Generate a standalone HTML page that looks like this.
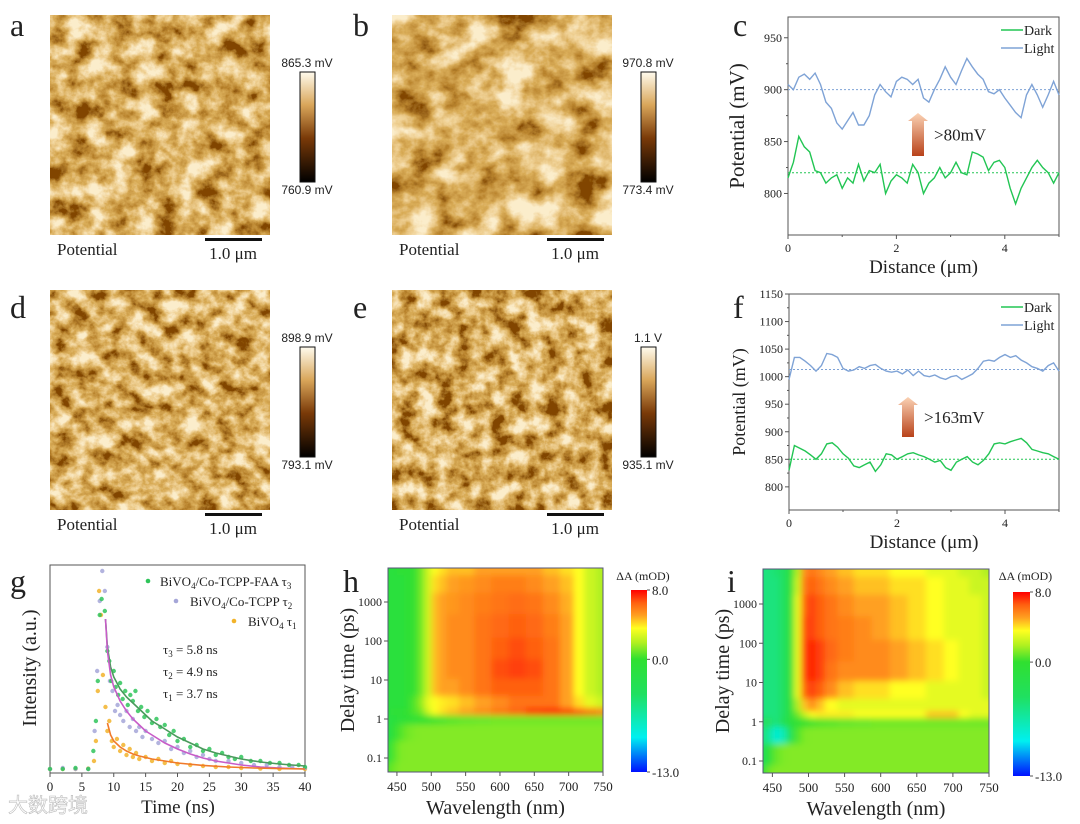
<!DOCTYPE html>
<html><head><meta charset="utf-8"><style>
html,body{margin:0;padding:0;background:#fff;}
svg{display:block;font-family:"Liberation Serif",serif;}
.sans{font-family:"Liberation Sans",sans-serif;}
</style></head><body>
<svg id="fig" width="1080" height="824" viewBox="0 0 1080 824" xmlns="http://www.w3.org/2000/svg">
<defs>
<linearGradient id="afmbar" x1="0" y1="0" x2="0" y2="1">
<stop offset="0" stop-color="#fffbee"/><stop offset="0.3" stop-color="#d9a65a"/><stop offset="0.6" stop-color="#7a3a08"/><stop offset="1" stop-color="#000"/></linearGradient>
<linearGradient id="arrowg" x1="0" y1="0" x2="0" y2="1"><stop offset="0" stop-color="#fbd2b4"/><stop offset="1" stop-color="#b8421a"/></linearGradient>
<linearGradient id="cbar" x1="0" y1="1" x2="0" y2="0">
<stop offset="0" stop-color="#0010ff"/><stop offset="0.19" stop-color="#00f0f0"/><stop offset="0.43" stop-color="#20e060"/><stop offset="0.62" stop-color="#30e030"/><stop offset="0.71" stop-color="#b0f020"/><stop offset="0.79" stop-color="#ffff20"/><stop offset="0.86" stop-color="#ffa020"/><stop offset="0.93" stop-color="#ff6010"/><stop offset="1" stop-color="#ff0000"/></linearGradient>
<filter id="afm1" x="0" y="0" width="1" height="1"><feTurbulence type="fractalNoise" baseFrequency="0.045 0.05" numOctaves="5" seed="3"/><feColorMatrix type="matrix" values="2.0 0 0 0 -0.5  2.0 0 0 0 -0.5  2.0 0 0 0 -0.5  0 0 0 0 1"/><feComponentTransfer><feFuncR type="table" tableValues="0.22 0.5 0.7 0.87 0.97"/><feFuncG type="table" tableValues="0.06 0.24 0.42 0.64 0.85"/><feFuncB type="table" tableValues="0 0.03 0.1 0.3 0.6"/></feComponentTransfer></filter>
<filter id="afm2" x="0" y="0" width="1" height="1"><feTurbulence type="fractalNoise" baseFrequency="0.03 0.035" numOctaves="5" seed="11"/><feColorMatrix type="matrix" values="2.0 0 0 0 -0.47  2.0 0 0 0 -0.47  2.0 0 0 0 -0.47  0 0 0 0 1"/><feComponentTransfer><feFuncR type="table" tableValues="0.22 0.5 0.7 0.87 0.97"/><feFuncG type="table" tableValues="0.06 0.24 0.42 0.64 0.85"/><feFuncB type="table" tableValues="0 0.03 0.1 0.3 0.6"/></feComponentTransfer></filter>
<filter id="afm3" x="0" y="0" width="1" height="1"><feTurbulence type="fractalNoise" baseFrequency="0.055 0.06" numOctaves="5" seed="27"/><feColorMatrix type="matrix" values="2.0 0 0 0 -0.5  2.0 0 0 0 -0.5  2.0 0 0 0 -0.5  0 0 0 0 1"/><feComponentTransfer><feFuncR type="table" tableValues="0.22 0.5 0.7 0.87 0.97"/><feFuncG type="table" tableValues="0.06 0.24 0.42 0.64 0.85"/><feFuncB type="table" tableValues="0 0.03 0.1 0.3 0.6"/></feComponentTransfer></filter>
<filter id="afm4" x="0" y="0" width="1" height="1"><feTurbulence type="fractalNoise" baseFrequency="0.055 0.06" numOctaves="5" seed="41"/><feColorMatrix type="matrix" values="2.0 0 0 0 -0.52  2.0 0 0 0 -0.52  2.0 0 0 0 -0.52  0 0 0 0 1"/><feComponentTransfer><feFuncR type="table" tableValues="0.22 0.5 0.7 0.87 0.97"/><feFuncG type="table" tableValues="0.06 0.24 0.42 0.64 0.85"/><feFuncB type="table" tableValues="0 0.03 0.1 0.3 0.6"/></feComponentTransfer></filter>
<filter id="hblur" x="-0.1" y="-0.1" width="1.2" height="1.2"><feGaussianBlur stdDeviation="3.2"/></filter>
<clipPath id="cliph"><rect x="388" y="568" width="215" height="204"/></clipPath>
<clipPath id="clipi"><rect x="763" y="569" width="226" height="204"/></clipPath>
</defs>
<g id="root"></g>
</svg>
<script>
// ---------- data ----------
const distC = [0,0.1,0.2,0.3,0.4,0.5,0.6,0.7,0.8,0.9,1,1.1,1.2,1.3,1.4,1.5,1.6,1.7,1.8,1.9,2,2.1,2.2,2.3,2.4,2.5,2.6,2.7,2.8,2.9,3,3.1,3.2,3.3,3.4,3.5,3.6,3.7,3.8,3.9,4,4.1,4.2,4.3,4.4,4.5,4.6,4.7,4.8,4.9,5];
const cLight = [905,900,912,915,910,916,905,888,882,868,862,870,878,866,866,875,895,905,898,893,908,912,910,905,910,892,888,900,910,922,912,905,918,930,922,915,910,898,896,900,892,885,878,873,895,905,895,883,895,908,895];
const cDark = [815,830,855,845,840,822,820,810,815,818,805,815,810,828,812,822,820,828,800,812,818,815,810,828,820,800,810,815,825,815,820,830,820,818,840,838,835,822,830,832,825,805,790,805,815,825,832,825,820,810,820];
const cMeans = [900,820];
const fLight = [995,1035,1035,1028,1020,1010,1020,1042,1040,1035,1015,1010,1012,1018,1015,1020,1022,1015,1010,1008,1010,1005,1012,1002,1010,1002,1000,1003,998,995,1000,1002,995,1000,1005,1015,1028,1030,1028,1035,1040,1035,1038,1030,1025,1018,1015,1010,1020,1025,1010];
const fDark = [830,875,870,865,858,850,860,878,880,872,860,852,838,835,840,845,828,840,860,858,850,855,860,862,858,855,850,845,848,835,830,845,850,855,845,840,848,860,878,880,878,882,885,888,880,868,865,862,860,855,850];
const fMeans = [1013,850];
const cTicksY = [800,850,900,950];
const fTicksY = [800,850,900,950,1000,1050,1100,1150];
const distTicks = [0,2,4];
// g: TRPL
const gT_faa = [0,2,4,6,6.8,7.2,7.5,7.8,8.1,8.6,9,9.3,9.6,10,10.3,10.7,11,11.4,11.8,12.2,12.6,13,13.4,13.8,14.3,14.8,15.3,16,16.7,17.3,18,18.7,19.4,20,21,22,23,24,25,26,27,28,29,30,31.5,33,34.5,36,37.5,39,40];
const gV_faa = [0.01,0.01,0.015,0.01,0.1,0.25,0.45,0.78,0.86,0.8,0.6,0.55,0.45,0.5,0.42,0.38,0.44,0.36,0.4,0.33,0.38,0.35,0.4,0.3,0.32,0.27,0.3,0.24,0.26,0.22,0.23,0.18,0.2,0.15,0.16,0.12,0.13,0.1,0.11,0.08,0.09,0.07,0.06,0.07,0.05,0.05,0.04,0.04,0.03,0.03,0.02];
const gT_tcpp = [0,2,4,6,7,7.4,7.8,8.2,8.6,9,9.4,9.8,10.2,10.6,11,11.5,12,12.5,13,13.5,14,14.5,15,16,17,18,19,20,21,22,23,24,25,26,28,30,32,34,36,38,40];
const gV_tcpp = [0.01,0.015,0.01,0.01,0.2,0.5,0.85,1.0,0.9,0.62,0.45,0.4,0.3,0.33,0.28,0.25,0.3,0.22,0.26,0.2,0.22,0.17,0.2,0.16,0.14,0.15,0.11,0.12,0.09,0.1,0.07,0.08,0.06,0.05,0.05,0.04,0.03,0.03,0.02,0.02,0.015];
const gT_bv = [0,2,4,6,6.9,7.2,7.5,7.7,8,8.3,8.7,9,9.3,9.7,10,10.5,11,11.5,12,12.5,13,13.5,14,15,16,17,18,19,20,22,24,26,28,30,33,36,40];
const gV_bv = [0.01,0.01,0.01,0.012,0.05,0.15,0.4,0.9,0.78,0.48,0.32,0.2,0.25,0.15,0.12,0.16,0.1,0.13,0.08,0.11,0.07,0.09,0.06,0.07,0.05,0.06,0.04,0.05,0.035,0.03,0.025,0.02,0.02,0.015,0.012,0.01,0.01];
const gFitT = [8.7,9,9.5,10,11,12,13,14,15,16,18,20,22,24,26,28,30,33,36,40];
const gFitTcpp = [0.76,0.6,0.48,0.42,0.35,0.3,0.26,0.23,0.2,0.18,0.14,0.11,0.085,0.065,0.05,0.04,0.03,0.02,0.015,0.01];
const gFitFaa = [0.76,0.62,0.52,0.47,0.41,0.37,0.34,0.31,0.28,0.25,0.21,0.17,0.14,0.11,0.09,0.075,0.06,0.045,0.035,0.025];
const gFitBvT = [9,9.5,10,11,12,13,14,16,18,20,24,28,32,36,40];
const gFitBv = [0.24,0.18,0.15,0.12,0.1,0.085,0.075,0.06,0.05,0.04,0.028,0.02,0.015,0.012,0.01];
const gTicksX = [0,5,10,15,20,25,30,35,40];
// h / i heatmaps: columns = wavelength (nm), rows = log10(delay/ps)
const waveCols = [437,445,455,465,475,485,495,505,515,530,550,575,600,625,650,675,700,715,730,750];
const logTimeRows = [-1.4,-0.8,-0.3,0.05,0.17,0.4,0.8,1.3,1.8,2.4,3.0,3.5,3.9];
const hValues = [
[0.5,1,1.3,1.3,1.3,1.3,1.3,1.3,1.3,1.3,1.3,1.3,1.3,1.3,1.3,1.3,1.3,1.3,1.3,1.3],
[-1,0.5,1.2,1.3,1.3,1.3,1.3,1.3,1.3,1.3,1.3,1.3,1.3,1.3,1.3,1.3,1.3,1.3,1.3,1.3],
[-2,-0.5,0.5,1,1.2,1.3,1.3,1.3,1.3,1.3,1.3,1.3,1.3,1.3,1.3,1.3,1.3,1.3,1.3,1.3],
[-1.5,-1,-0.8,-0.5,-0.3,-0.2,0,0.2,0.4,0.6,0.8,0.9,1,1,1,1,1,1,1,1],
[-1,-0.5,-0.3,0,0.5,1,2.5,3.5,4,4.5,5,5.5,6,6.5,7.5,8,7.5,7,6.5,6],
[-1,-1,-1,-0.5,0.5,1.5,3,3.5,3.8,4,4.5,5,5.5,6,6,6,5,4,3,2.5],
[-1,-1,-1,-0.5,0,1,2.5,4.5,5,5,5.5,6,6.5,6.5,6.5,6,5,3.5,2.5,2],
[-1,-1,-1,-0.5,0,1,2.5,4.5,5,5.5,5.5,6,6.8,7,6.8,6,5,3.5,2.5,2],
[-1,-1,-1,-0.5,0,1,2.5,4.5,5,5.5,5.5,6,6.5,6.8,6.5,6,5,3.5,2.5,2],
[-1,-1,-1,-0.5,0,1,2.5,4.5,5,5.5,5.5,6,6.3,6.5,6.3,5.8,5,3.5,2.5,2],
[-1,-1,-1,-0.5,0,1,2.5,4.5,5,5.2,5.5,5.8,6,6.2,6,5.5,4.8,3.5,2.5,2],
[-1,-1,-1,-0.5,0,1,2.5,4,4.5,5,5.2,5.5,5.8,5.8,5.5,5,4.5,3.5,2.5,2],
[-1,-1,-0.5,-0.5,0,1,2.5,3.5,4,4.5,4.5,5,5,5,5,4.5,4,3.5,2.5,2]];
const iValues = [
[-1,1,1.3,1.3,1.3,1.3,1.3,1.3,1.3,1.3,1.3,1.3,1.3,1.3,1.3,1.3,1.3,1.3,1.3,1.3],
[-3,-1,0.8,1.2,1.3,1.3,1.3,1.3,1.3,1.3,1.3,1.3,1.3,1.3,1.3,1.3,1.3,1.3,1.3,1.3],
[-5,-6,-8,-7,-3,0.5,1.2,1.3,1.3,1.3,1.3,1.3,1.3,1.3,1.3,1.3,1.3,1.3,1.3,1.3],
[-4,-4,-5,-3,-1,-0.5,0,0.3,0.5,0.6,0.8,0.9,1,1,1,1,1,1,1,1],
[-5,-5,-5,-4,-1,1,2.5,3.5,3.8,3.8,3.8,3.5,3.5,3.5,3.5,4.5,4.5,3.5,3,3],
[-5,-5,-5,-4,-1,2,4.5,5.5,4.5,3.5,3,3,3,3,3,3,3,3,3,3],
[-5,-5,-5,-4,-1,3,6.5,7,6.5,5.5,4.5,4,4,3.5,3.5,3,3,3,3,2.5],
[-5,-5,-5,-4,-1,3,7,7.5,7,6,5.5,5.5,5.5,5,4.5,4,3.5,3,3,2.5],
[-5,-5,-5,-4,-1,3,7,7.5,7,6.3,5.8,5.5,5.5,5,4.5,4,3.5,3,3,2.5],
[-5,-5,-5,-4,-1,3,6.8,7,6.5,6,5.8,5.5,5,4.5,4,3.5,3,3,3,2.5],
[-5,-5,-5,-4,-1,3,6.5,7,6.5,6,5.5,5,5,4.5,4,3.5,3,3,3,2.5],
[-5,-5,-5,-4,-1,2.5,6,6.5,6,5.5,5,4.5,4.5,4,4,3.5,3,3,2.5,2.5],
[-5,-5,-4.5,-4,-1,2,5.5,6,5.5,5,4.5,4,4,3.5,3.5,3,3,2.5,2.5,2]];
const waveTicks = [450,500,550,600,650,700,750];
const delayTicks = [0.1,1,10,100,1000];
const delayTickLabels = ["0.1","1","10","100","1000"];

// ---------- helpers ----------
const NS="http://www.w3.org/2000/svg";
const root=document.getElementById('root');
function el(tag,attrs,parent){const e=document.createElementNS(NS,tag);for(const k in attrs)e.setAttribute(k,attrs[k]);(parent||root).appendChild(e);return e;}
function txt(x,y,s,size,anchor,parent,extra){const t=el('text',Object.assign({x:x,y:y,'font-size':size,'text-anchor':anchor||'start',fill:'#222'},extra||{}),parent);t.textContent=s;return t;}
function grp(name){const g=el('g',{});return g;}

// ---------- panel letters ----------
[['a',10,36],['b',353,36],['c',733,36],['d',10,318],['e',353,318],['f',733,318],['g',10,592],['h',343,592],['i',727,592]].forEach(p=>{
 const t=txt(p[1],p[2],p[0],32,'start');
 
 
});

// ---------- AFM panels ----------
const afm=[{id:'a',x:50,y:15,f:'afm1',top:'865.3 mV',bot:'760.9 mV',cb:300},
{id:'b',x:392,y:15,f:'afm2',top:'970.8 mV',bot:'773.4 mV',cb:641},
{id:'d',x:50,y:290,f:'afm3',top:'898.9 mV',bot:'793.1 mV',cb:300},
{id:'e',x:392,y:290,f:'afm4',top:'1.1 V',bot:'935.1 mV',cb:641}];
afm.forEach(p=>{
 const g=grp('afm-panel-'+p.id);
 const r=el('rect',{x:p.x,y:p.y,width:220,height:220,filter:'url(#'+p.f+')'},g);
 
 
 const cb=el('rect',{x:p.cb,y:p.y+57,width:15,height:110,fill:'url(#afmbar)',stroke:'#111','stroke-width':1},g);
 
 
 txt(p.cb+7,p.y+52,p.top,12,'middle',g,{class:'sans'});
 txt(p.cb+7,p.y+179,p.bot,12,'middle',g,{class:'sans'});
 txt(p.x+7,p.y+240,'Potential',17,'start',g);
 const sb=el('rect',{x:p.x+155,y:p.y+223,width:57,height:3,fill:'#111'},g);
 
 
 txt(p.x+183,p.y+244,'1.0 μm',17,'middle',g);
});

// ---------- line profile panels c,f ----------
function profile(id,box,yMin,yMax,ticksY,light,dark,means,arrow,label){
 const g=grp('profile-chart-'+id);
 const X=v=>box.x0+(v-0)/(5-0)*(box.x1-box.x0);
 const Y=v=>box.y1-(v-yMin)/(yMax-yMin)*(box.y1-box.y0);
 const fr=el('rect',{x:box.x0,y:box.y0,width:box.x1-box.x0,height:box.y1-box.y0,fill:'none',stroke:'#555','stroke-width':1},g);
 
 
 ticksY.forEach(v=>{el('line',{x1:box.x0,x2:box.x0-4,y1:Y(v),y2:Y(v),stroke:'#555'},g);txt(box.x0-6,Y(v)+4,String(v),12,'end',g);});
 for(let k=0;k<ticksY.length-1;k++){const m=(ticksY[k]+ticksY[k+1])/2;el('line',{x1:box.x0,x2:box.x0-2,y1:Y(m),y2:Y(m),stroke:'#555'},g);}
 distTicks.forEach(v=>{el('line',{x1:X(v),x2:X(v),y1:box.y1,y2:box.y1+4,stroke:'#555'},g);txt(X(v),box.y1+17,String(v),12,'middle',g);});
 [1,3,5].forEach(v=>el('line',{x1:X(v),x2:X(v),y1:box.y1,y2:box.y1+2,stroke:'#555'},g));
 const mk=(arr)=>arr.map((v,i)=>(i?'L':'M')+X(distC[i]).toFixed(1)+','+Y(v).toFixed(1)).join('');
 const dl=el('path',{d:mk(light),fill:'none',stroke:'#7fa3d6','stroke-width':1.4},g);
 
 
 const dd=el('path',{d:mk(dark),fill:'none',stroke:'#22c553','stroke-width':1.4},g);
 
 
 el('line',{x1:box.x0,x2:box.x1,y1:Y(means[0]),y2:Y(means[0]),stroke:'#7fa3d6','stroke-dasharray':'2,2'},g);
 el('line',{x1:box.x0,x2:box.x1,y1:Y(means[1]),y2:Y(means[1]),stroke:'#22c553','stroke-dasharray':'2,2'},g);
 const ar=el('path',{d:`M${arrow.x-6},${arrow.y1} L${arrow.x-6},${arrow.y0+8} L${arrow.x-10},${arrow.y0+8} L${arrow.x},${arrow.y0} L${arrow.x+10},${arrow.y0+8} L${arrow.x+6},${arrow.y0+8} L${arrow.x+6},${arrow.y1}Z`,fill:'url(#arrowg)'},g);
 
 
 txt(arrow.x+16,(arrow.y0+arrow.y1)/2+6,label,17,'start',g);
 el('line',{x1:box.x1-58,x2:box.x1-36,y1:box.y0+13,y2:box.y0+13,stroke:'#22c553','stroke-width':1.5},g);
 txt(box.x1-35,box.y0+18,'Dark',14,'start',g);
 el('line',{x1:box.x1-58,x2:box.x1-36,y1:box.y0+31,y2:box.y0+31,stroke:'#7fa3d6','stroke-width':1.5},g);
 txt(box.x1-35,box.y0+36,'Light',14,'start',g);
 const yl=txt(0,0,'Potential (mV)',id==='c'?21:18,'middle',g,{transform:`translate(${box.x0-44},${(box.y0+box.y1)/2}) rotate(-90)`});
 
 
 const xl=txt((box.x0+box.x1)/2,box.y1+38,'Distance (μm)',19,'middle',g);
 
 
}
profile('c',{x0:788,x1:1059,y0:17,y1:235},760,970,cTicksY,cLight,cDark,cMeans,{x:918,y0:113,y1:156},'>80mV');
profile('f',{x0:789,x1:1059,y0:294,y1:510},758,1150,fTicksY,fLight,fDark,fMeans,{x:908,y0:397,y1:437},'>163mV');

// ---------- panel g ----------
(function(){
 const g=grp('trpl-chart-g');
 const x0=50,x1=305,y0=565,y1=773;
 const X=t=>x0+t/40*(x1-x0);
 const Y=v=>771-v*200;
 const fr=el('rect',{x:x0,y:y0,width:x1-x0,height:y1-y0,fill:'none',stroke:'#555'},g);
 
 
 gTicksX.forEach(v=>{el('line',{x1:X(v),x2:X(v),y1:y1,y2:y1+4,stroke:'#555'},g);txt(X(v),y1+18,String(v),13,'middle',g);});
 const sc=(T,V,col,name)=>T.forEach((t,i)=>{const c=el('circle',{cx:X(t),cy:Y(V[i]),r:2.2,fill:col,opacity:0.85},g);});
 sc(gT_bv,gV_bv,'#f2b32a','point-bivo4');
 sc(gT_tcpp,gV_tcpp,'#a5a6d8','point-co-tcpp');
 sc(gT_faa,gV_faa,'#2fc45a','point-co-tcpp-faa');
 const ln=(T,V,col,name)=>{const p=el('path',{d:T.map((t,i)=>(i?'L':'M')+X(t).toFixed(1)+','+Y(V[i]).toFixed(1)).join(''),fill:'none',stroke:col,'stroke-width':1.6},g);};
 ln(gFitT,gFitFaa,'#4a9a5c','fit-co-tcpp-faa');
 ln(gFitT,gFitTcpp,'#c85cc8','fit-co-tcpp');
 ln(gFitBvT,gFitBv,'#f07a2a','fit-bivo4');
 const leg=[[148,581,'#2fc45a',160,586,'BiVO','/Co-TCPP-FAA τ','3'],[176,601,'#a5a6d8',190,606,'BiVO','/Co-TCPP τ','2'],[234,621,'#f2b32a',248,626,'BiVO','τ','1']];
 leg.forEach(l=>{el('circle',{cx:l[0],cy:l[1],r:2.3,fill:l[2]},g);
  const t=el('text',{x:l[3],y:l[4],'font-size':13,fill:'#222'},g);
  
  
  t.innerHTML=l[5]+'<tspan dy="3" font-size="9">4</tspan><tspan dy="-3">'+(l[6]==='τ'?' τ':l[6])+'</tspan><tspan dy="3" font-size="9">'+l[7]+'</tspan>';});
 [['3','5.8'],['2','4.9'],['1','3.7']].forEach((s,k)=>{const t=el('text',{x:163,y:654+k*22,'font-size':13,fill:'#222'},g);t.innerHTML='τ<tspan dy="3" font-size="9">'+s[0]+'</tspan><tspan dy="-3"> = '+s[1]+' ns</tspan>';});
 const yl=txt(0,0,'Intensity (a.u.)',20,'middle',g,{transform:'translate(36,668) rotate(-90)'});
 
 
 const xl=txt(178,813,'Time (ns)',19,'middle',g);
 
 
 const wm=txt(8,812,'大数跨境',20,'start',g,{fill:'#ffffff',stroke:'#bbb','stroke-width':0.6,style:'font-family:"Liberation Sans","Noto Sans CJK SC",sans-serif'});
 
 
})();

// ---------- heatmaps ----------
const stops=[[-13,[0,16,255]],[-9,[0,240,240]],[-4,[32,224,96]],[0,[48,224,48]],[2,[176,240,32]],[3.5,[255,255,32]],[5,[255,160,32]],[6.5,[255,96,16]],[8,[255,0,0]]];
function cmap(v){v=Math.max(-13,Math.min(8,v));for(let i=1;i<stops.length;i++){if(v<=stops[i][0]){const a=stops[i-1],b=stops[i];const f=(v-a[0])/(b[0]-a[0]);return 'rgb('+a[1].map((c,k)=>Math.round(c+(b[1][k]-c)*f)).join(',')+')';}}return 'rgb(255,0,0)';}
function heatmap(id,box,vals,clip,cb){
 const g=grp('heatmap-chart-'+id);
 const wMin=437,wMax=750,ltTop=box.ltTop,ltBot=box.ltBot;
 const X=w=>box.x0+(w-wMin)/(wMax-wMin)*(box.x1-box.x0);
 const Y=lt=>box.y0+(ltTop-lt)/(ltTop-ltBot)*(box.y1-box.y0);
 const cells=el('g',{'clip-path':'url(#'+clip+')'},g);
 const inner=el('g',{filter:'url(#hblur)'},cells);
 for(let j=0;j<logTimeRows.length;j++){
  const ya=j===0?ltBot-0.3:(logTimeRows[j-1]+logTimeRows[j])/2;
  const yb=j===logTimeRows.length-1?ltTop+0.3:(logTimeRows[j]+logTimeRows[j+1])/2;
  for(let i=0;i<waveCols.length;i++){
   const xa=i===0?wMin-10:(waveCols[i-1]+waveCols[i])/2;
   const xb=i===waveCols.length-1?wMax+10:(waveCols[i]+waveCols[i+1])/2;
   const r=el('rect',{x:X(xa),y:Y(yb),width:X(xb)-X(xa)+0.5,height:Y(ya)-Y(yb)+0.5,fill:cmap(vals[j][i])},inner);
   
   
  }
 }
 const fr=el('rect',{x:box.x0,y:box.y0,width:box.x1-box.x0,height:box.y1-box.y0,fill:'none',stroke:'#557',"stroke-width":1},g);
 
 
 waveTicks.forEach(w=>{el('line',{x1:X(w),x2:X(w),y1:box.y1,y2:box.y1+4,stroke:'#555'},g);txt(X(w),box.y1+19,String(w),13,'middle',g);});
 delayTicks.forEach((d,k)=>{const y=Y(Math.log10(d));el('line',{x1:box.x0,x2:box.x0-4,y1:y,y2:y,stroke:'#555'},g);txt(box.x0-6,y+4,delayTickLabels[k],12,'end',g);});
 const yl=txt(0,0,'Delay time (ps)',20,'middle',g,{transform:`translate(${box.x0-34},${(box.y0+box.y1)/2}) rotate(-90)`});
 
 
 const xl=txt((box.x0+box.x1)/2,box.y1+42,'Wavelength (nm)',20,'middle',g);
 
 
 const cbr=el('rect',{x:cb.x,y:cb.y0,width:cb.w,height:cb.y1-cb.y0,fill:'url(#cbar)'},g);
 
 
 const cy=v=>cb.y0+(8-v)/21*(cb.y1-cb.y0);
 [[8,'8.0'],[0,'0.0'],[-13,'-13.0']].forEach(t=>{el('line',{x1:cb.x+cb.w,x2:cb.x+cb.w+3,y1:cy(t[0]),y2:cy(t[0]),stroke:'#555'},g);txt(cb.x+cb.w+5,cy(t[0])+5,t[1],13,'start',g);});
 txt(cb.x+cb.w/2+4,580,'ΔA (mOD)',12,'middle',g);
}
heatmap('h',{x0:388,x1:603,y0:568,y1:772,ltTop:3+34/39,ltBot:-1-14/39},hValues,'cliph',{x:631,w:16,y0:590,y1:772});
heatmap('i',{x0:763,x1:989,y0:569,y1:773,ltTop:3+35/39.25,ltBot:-1-12/39.25},iValues,'clipi',{x:1013,w:17,y0:592,y1:776});
</script>
</body></html>
